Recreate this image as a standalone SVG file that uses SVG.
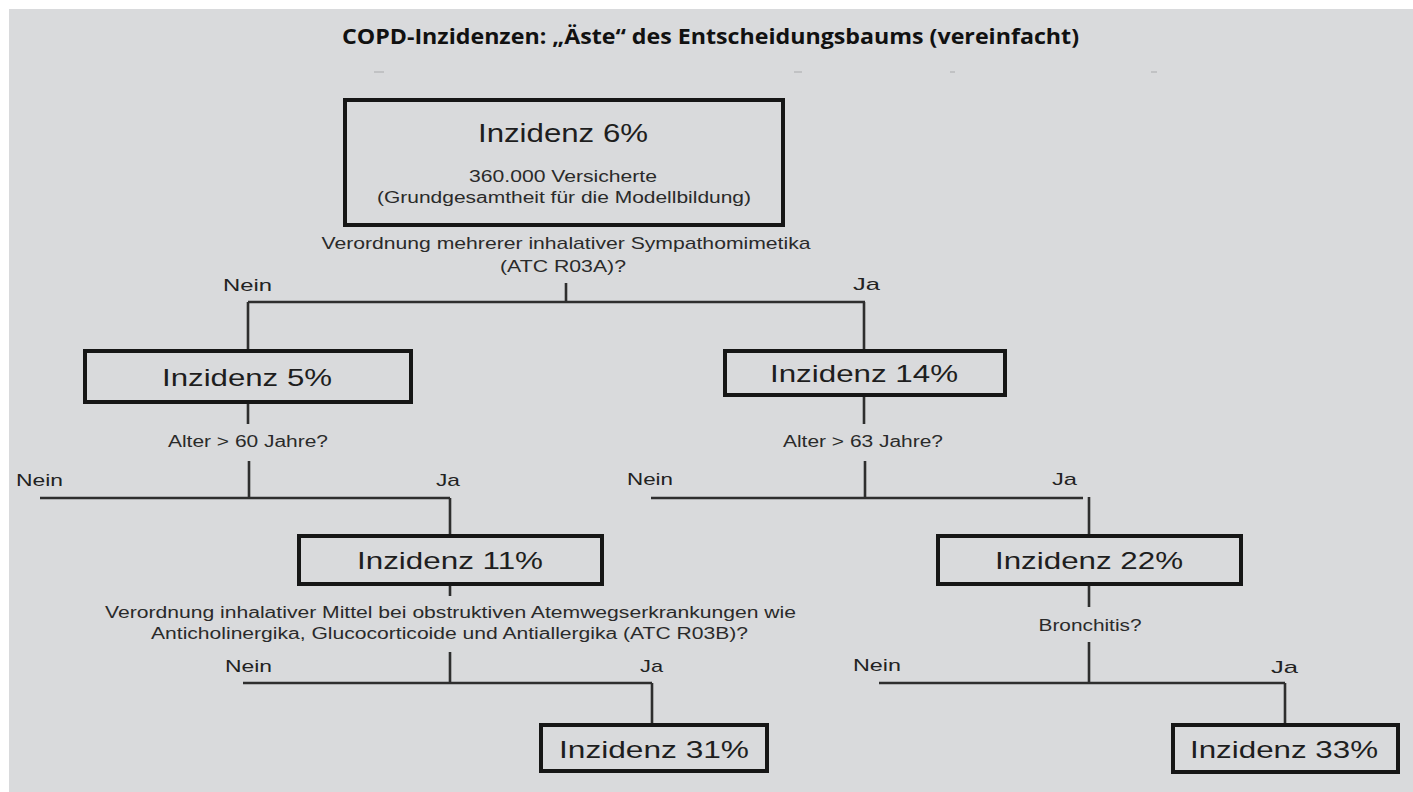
<svg xmlns="http://www.w3.org/2000/svg" width="1413" height="792" viewBox="0 0 1413 792">
<defs>
<style>
.bg{fill:#d9dadc}
.box{fill:none;stroke:#161616;stroke-width:4}
.ln{fill:none;stroke:#2e2e2e;stroke-width:2.6}
.dash{stroke:#b9babc;stroke-width:1.5}
text{font-family:"Liberation Sans",Arial,sans-serif;fill:#222}
.title{font-family:"Open Sans","DejaVu Sans",sans-serif;font-weight:bold;font-size:22px;fill:#111}
.big{font-size:24px;text-anchor:middle;fill:#1e1e1e}
.mid{font-size:16px;text-anchor:middle;fill:#2a2a2a}
.q{font-size:16px;text-anchor:middle;fill:#2a2a2a}
.yn{font-size:17px;fill:#222}
</style>
</defs>
<rect x="0" y="0" width="1413" height="792" fill="#ffffff"/>
<rect class="bg" x="9" y="9" width="1404" height="783"/>
<text class="title" x="342" y="44" textLength="737" lengthAdjust="spacingAndGlyphs">COPD-Inzidenzen: „Äste“ des Entscheidungsbaums (vereinfacht)</text>
<g id="artifacts">
<line class="dash" x1="374" y1="72" x2="384" y2="72"/>
<line class="dash" x1="794" y1="72" x2="802" y2="72"/>
<line class="dash" x1="950" y1="72" x2="955" y2="72"/>
<line class="dash" x1="1151" y1="72" x2="1157" y2="72"/>
</g>
<g id="connectors">
<path class="ln" d="M566 283V302M248 302H865M248 302V349M864 302V349"/>
<path class="ln" d="M248 404V424M249 461V498M40 498H450M450 498V534"/>
<path class="ln" d="M864 397V424M865 461V498M651 498H1083M1089 497V534"/>
<path class="ln" d="M450 586V596M450 652V683M243 683H652M652 683V723"/>
<path class="ln" d="M1089 586V607M1089 642V683M879 683H1285M1285 683V723"/>
</g>
<g id="labels">
<text class="q" x="566" y="249" textLength="489" lengthAdjust="spacingAndGlyphs" style="font-size:17px">Verordnung mehrerer inhalativer Sympathomimetika</text>
<text class="q" x="563" y="272" textLength="126" lengthAdjust="spacingAndGlyphs" style="font-size:17px">(ATC R03A)?</text>
<text class="yn" x="223" y="291" textLength="49" lengthAdjust="spacingAndGlyphs">Nein</text>
<text class="yn" x="853" y="290" textLength="27" lengthAdjust="spacingAndGlyphs">Ja</text>
<text class="q" x="248" y="447" textLength="160" lengthAdjust="spacingAndGlyphs">Alter &gt; 60 Jahre?</text>
<text class="q" x="863" y="447" textLength="160" lengthAdjust="spacingAndGlyphs">Alter &gt; 63 Jahre?</text>
<text class="yn" x="16" y="486" textLength="47" lengthAdjust="spacingAndGlyphs">Nein</text>
<text class="yn" x="436" y="486" textLength="24" lengthAdjust="spacingAndGlyphs">Ja</text>
<text class="yn" x="627" y="485" textLength="46" lengthAdjust="spacingAndGlyphs">Nein</text>
<text class="yn" x="1052" y="485" textLength="25" lengthAdjust="spacingAndGlyphs">Ja</text>
<text class="q" x="450.5" y="618" textLength="691" lengthAdjust="spacingAndGlyphs">Verordnung inhalativer Mittel bei obstruktiven Atemwegserkrankungen wie</text>
<text class="q" x="449.5" y="639" textLength="597" lengthAdjust="spacingAndGlyphs">Anticholinergika, Glucocorticoide und Antiallergika (ATC R03B)?</text>
<text class="q" x="1090" y="631" textLength="103" lengthAdjust="spacingAndGlyphs">Bronchitis?</text>
<text class="yn" x="225" y="672" textLength="47" lengthAdjust="spacingAndGlyphs">Nein</text>
<text class="yn" x="640" y="672" textLength="23" lengthAdjust="spacingAndGlyphs">Ja</text>
<text class="yn" x="853" y="671" textLength="48" lengthAdjust="spacingAndGlyphs">Nein</text>
<text class="yn" x="1271" y="673" textLength="27" lengthAdjust="spacingAndGlyphs">Ja</text>
</g>
<g id="node-root">
<rect class="box" x="345" y="100" width="438" height="125"/>
<text class="big" x="563" y="142" textLength="170" lengthAdjust="spacingAndGlyphs" style="font-size:25px">Inzidenz 6%</text>
<text class="mid" x="563" y="182" textLength="188" lengthAdjust="spacingAndGlyphs">360.000 Versicherte</text>
<text class="mid" x="564" y="203" textLength="374" lengthAdjust="spacingAndGlyphs">(Grundgesamtheit für die Modellbildung)</text>
</g>
<g id="node-5">
<rect class="box" x="85" y="351" width="326" height="51"/>
<text class="big" x="247" y="386" textLength="170" lengthAdjust="spacingAndGlyphs">Inzidenz 5%</text>
</g>
<g id="node-14">
<rect class="box" x="725" y="351" width="280" height="44"/>
<text class="big" x="864" y="382" textLength="188" lengthAdjust="spacingAndGlyphs">Inzidenz 14%</text>
</g>
<g id="node-11">
<rect class="box" x="299" y="536" width="303" height="48"/>
<text class="big" x="450" y="569" textLength="186" lengthAdjust="spacingAndGlyphs">Inzidenz 11%</text>
</g>
<g id="node-22">
<rect class="box" x="938" y="536" width="303" height="48"/>
<text class="big" x="1089" y="569" textLength="188" lengthAdjust="spacingAndGlyphs">Inzidenz 22%</text>
</g>
<g id="node-31">
<rect class="box" x="541" y="725" width="226" height="46"/>
<text class="big" x="654" y="758" textLength="190" lengthAdjust="spacingAndGlyphs">Inzidenz 31%</text>
</g>
<g id="node-33">
<rect class="box" x="1173" y="725" width="225" height="47"/>
<text class="big" x="1284" y="758" textLength="188" lengthAdjust="spacingAndGlyphs">Inzidenz 33%</text>
</g>
</svg>
